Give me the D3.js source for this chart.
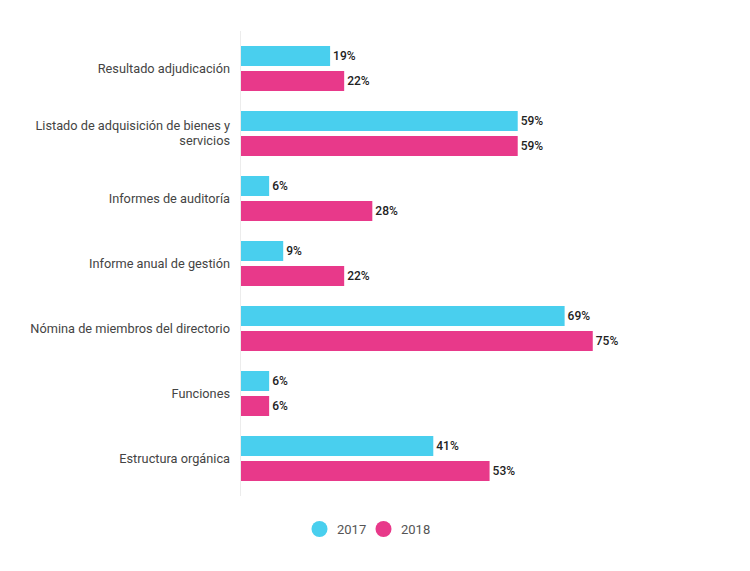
<!DOCTYPE html>
<html><head><meta charset="utf-8">
<script src="https://cdn.jsdelivr.net/npm/d3@7"></script>
<style>body{margin:0;background:#fff;}svg{display:block;font-family:Roboto,sans-serif;}</style>
</head><body>
<svg id="c" width="750" height="571"></svg>
<script>
const categories = [
  ["Resultado adjudicación"],
  ["Listado de adquisición de bienes y","servicios"],
  ["Informes de auditoría"],
  ["Informe anual de gestión"],
  ["Nómina de miembros del directorio"],
  ["Funciones"],
  ["Estructura orgánica"]
];
const series = ["2017","2018"];
const values2017 = [19,59,6,9,69,6,41];
const values2018 = [22,59,28,22,75,6,53];
const colors = ["#49cfee","#e8398a"];

const svg = d3.select("#c");
const catKeys = categories.map(c=>c.join(" "));
const x = d3.scaleLinear().domain([0,100]).range([241,710]);
const y0 = d3.scaleBand().domain(catKeys).range([36,491]).paddingInner(20/65).paddingOuter(10/65);
const y1 = d3.scaleBand().domain(series).range([0,y0.bandwidth()]).paddingInner(0.2);
const color = d3.scaleOrdinal().domain(series).range(colors);
const vals = {"2017":values2017,"2018":values2018};

svg.append("line").attr("x1",240.5).attr("x2",240.5).attr("y1",31).attr("y2",496)
  .attr("stroke","#ececec").attr("stroke-width",1);

catKeys.forEach((k,i)=>{
  const g = svg.append("g").attr("transform",`translate(0,${y0(k)})`);
  series.forEach(s=>{
    const v = vals[s][i];
    g.append("rect").attr("x",x(0)).attr("y",y1(s)).attr("width",x(v)-x(0)).attr("height",y1.bandwidth())
      .attr("fill",color(s));
    g.append("text").attr("x",x(v)+3).attr("y",y1(s)+y1.bandwidth()/2).attr("dy","0.35em")
      .attr("font-size",12).attr("font-weight",500).attr("fill","#222").text(v+"%");
  });
  const lines = categories[i];
  const cy = y0(k)+y0.bandwidth()/2;
  const lh = 15;
  const t = svg.append("text").attr("text-anchor","end").attr("font-size",12.75).attr("fill","#444");
  lines.forEach((ln,j)=>{
    t.append("tspan").attr("x",230).attr("y",cy + (j-(lines.length-1)/2)*lh).attr("dy","0.35em").text(ln);
  });
});

// legend
const leg = [{s:"2017",cx:319.5,tx:337},{s:"2018",cx:383.5,tx:401}];
leg.forEach(l=>{
  svg.append("circle").attr("cx",l.cx).attr("cy",529).attr("r",8).attr("fill",color(l.s));
  svg.append("text").attr("x",l.tx).attr("y",529).attr("dy","0.35em").attr("font-size",13)
    .attr("fill","#555").text(l.s);
});
</script>
</body></html>
